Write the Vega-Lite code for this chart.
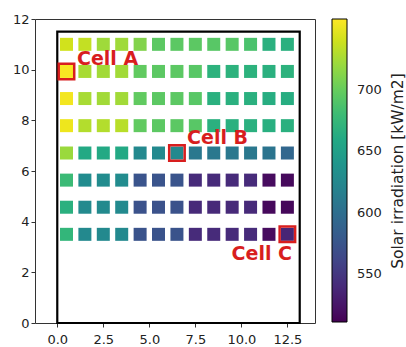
{
  "$schema": "https://vega.github.io/schema/vega-lite/v6.json",
  "width": 280,
  "height": 304,
  "autosize": {"type": "none"},
  "padding": {"left": 35, "top": 19, "right": 91, "bottom": 24},
  "background": "white",
  "title": {"text": "Solar irradiation [kW/m2]", "orient": "right", "angle": 270, "anchor": "middle", "baseline": "middle", "fontSize": 15.5, "fontWeight": "normal", "font": "DejaVu Sans", "color": "#222222", "offset": 0},
  "config": {
    "view": {"stroke": "#333", "strokeWidth": 1},
    "axis": {"labelFont": "DejaVu Sans", "labelFontSize": 13, "labelColor": "#222", "tickColor": "#333", "tickSize": 4, "domain": false, "grid": false, "title": null},
    "legend": {"labelFont": "DejaVu Sans", "labelFontSize": 13, "labelColor": "#222"}
  },
  "datasets": {
    "cells": [
      {"x":0.5,"y":11.0,"v":741},{"x":1.5,"y":11.0,"v":736},{"x":2.5,"y":11.0,"v":723},{"x":3.5,"y":11.0,"v":723},{"x":4.5,"y":11.0,"v":712},{"x":5.5,"y":11.0,"v":696},{"x":6.5,"y":11.0,"v":696},{"x":7.5,"y":11.0,"v":696},{"x":8.5,"y":11.0,"v":694},{"x":9.5,"y":11.0,"v":694},{"x":10.5,"y":11.0,"v":688},{"x":11.5,"y":11.0,"v":668},{"x":12.5,"y":11.0,"v":668},
      {"x":0.5,"y":9.93,"v":756},{"x":1.5,"y":9.93,"v":726},{"x":2.5,"y":9.93,"v":724},{"x":3.5,"y":9.93,"v":724},{"x":4.5,"y":9.93,"v":698},{"x":5.5,"y":9.93,"v":696},{"x":6.5,"y":9.93,"v":696},{"x":7.5,"y":9.93,"v":694},{"x":8.5,"y":9.93,"v":670},{"x":9.5,"y":9.93,"v":670},{"x":10.5,"y":9.93,"v":670},{"x":11.5,"y":9.93,"v":668},{"x":12.5,"y":9.93,"v":670},
      {"x":0.5,"y":8.86,"v":754},{"x":1.5,"y":8.86,"v":726},{"x":2.5,"y":8.86,"v":724},{"x":3.5,"y":8.86,"v":724},{"x":4.5,"y":8.86,"v":698},{"x":5.5,"y":8.86,"v":696},{"x":6.5,"y":8.86,"v":696},{"x":7.5,"y":8.86,"v":694},{"x":8.5,"y":8.86,"v":668},{"x":9.5,"y":8.86,"v":668},{"x":10.5,"y":8.86,"v":668},{"x":11.5,"y":8.86,"v":664},{"x":12.5,"y":8.86,"v":664},
      {"x":0.5,"y":7.79,"v":752},{"x":1.5,"y":7.79,"v":730},{"x":2.5,"y":7.79,"v":730},{"x":3.5,"y":7.79,"v":732},{"x":4.5,"y":7.79,"v":698},{"x":5.5,"y":7.79,"v":696},{"x":6.5,"y":7.79,"v":696},{"x":7.5,"y":7.79,"v":694},{"x":8.5,"y":7.79,"v":668},{"x":9.5,"y":7.79,"v":668},{"x":10.5,"y":7.79,"v":668},{"x":11.5,"y":7.79,"v":666},{"x":12.5,"y":7.79,"v":668},
      {"x":0.5,"y":6.71,"v":721},{"x":1.5,"y":6.71,"v":660},{"x":2.5,"y":6.71,"v":660},{"x":3.5,"y":6.71,"v":660},{"x":4.5,"y":6.71,"v":627},{"x":5.5,"y":6.71,"v":627},{"x":6.5,"y":6.71,"v":627},{"x":7.5,"y":6.71,"v":610},{"x":8.5,"y":6.71,"v":610},{"x":9.5,"y":6.71,"v":610},{"x":10.5,"y":6.71,"v":610},{"x":11.5,"y":6.71,"v":606},{"x":12.5,"y":6.71,"v":592},
      {"x":0.5,"y":5.64,"v":679},{"x":1.5,"y":5.64,"v":630},{"x":2.5,"y":5.64,"v":630},{"x":3.5,"y":5.64,"v":630},{"x":4.5,"y":5.64,"v":575},{"x":5.5,"y":5.64,"v":575},{"x":6.5,"y":5.64,"v":575},{"x":7.5,"y":5.64,"v":541},{"x":8.5,"y":5.64,"v":541},{"x":9.5,"y":5.64,"v":541},{"x":10.5,"y":5.64,"v":541},{"x":11.5,"y":5.64,"v":518},{"x":12.5,"y":5.64,"v":516},
      {"x":0.5,"y":4.57,"v":668},{"x":1.5,"y":4.57,"v":628},{"x":2.5,"y":4.57,"v":628},{"x":3.5,"y":4.57,"v":628},{"x":4.5,"y":4.57,"v":573},{"x":5.5,"y":4.57,"v":573},{"x":6.5,"y":4.57,"v":573},{"x":7.5,"y":4.57,"v":540},{"x":8.5,"y":4.57,"v":540},{"x":9.5,"y":4.57,"v":540},{"x":10.5,"y":4.57,"v":540},{"x":11.5,"y":4.57,"v":516},{"x":12.5,"y":4.57,"v":515},
      {"x":0.5,"y":3.5,"v":674},{"x":1.5,"y":3.5,"v":627},{"x":2.5,"y":3.5,"v":627},{"x":3.5,"y":3.5,"v":627},{"x":4.5,"y":3.5,"v":574},{"x":5.5,"y":3.5,"v":574},{"x":6.5,"y":3.5,"v":574},{"x":7.5,"y":3.5,"v":541},{"x":8.5,"y":3.5,"v":541},{"x":9.5,"y":3.5,"v":541},{"x":10.5,"y":3.5,"v":541},{"x":11.5,"y":3.5,"v":518},{"x":12.5,"y":3.5,"v":536}
    ],
    "building": [{"x": 0, "x2": 13.17, "y": 0, "y2": 11.5}],
    "highlight": [
      {"x": 0.5, "y": 9.93, "label": "Cell A", "lx": 1.07, "ly": 10.18},
      {"x": 6.5, "y": 6.71, "label": "Cell B", "lx": 7.05, "ly": 7.06},
      {"x": 12.5, "y": 3.5, "label": "Cell C", "lx": 9.47, "ly": 2.47}
    ]
  },
  "encoding": {
    "x": {"type": "quantitative", "scale": {"domain": [-1.21, 14.0], "nice": false, "zero": false},
          "axis": {"values": [0, 2.5, 5, 7.5, 10, 12.5], "format": ".1f", "labelPadding": 6}},
    "y": {"type": "quantitative", "scale": {"domain": [0, 12], "nice": false},
          "axis": {"values": [0, 2, 4, 6, 8, 10, 12], "labelPadding": 2}}
  },
  "layer": [
    {
      "data": {"name": "building"},
      "mark": {"type": "rect", "filled": false, "stroke": "black", "strokeWidth": 2.2},
      "encoding": {
        "x": {"field": "x", "type": "quantitative"},
        "x2": {"field": "x2"},
        "y": {"field": "y", "type": "quantitative"},
        "y2": {"field": "y2"}
      }
    },
    {
      "data": {"name": "cells"},
      "mark": {"type": "square", "size": 169, "opacity": 1, "filled": true},
      "encoding": {
        "x": {"field": "x", "type": "quantitative"},
        "y": {"field": "y", "type": "quantitative"},
        "color": {"field": "v", "type": "quantitative",
                  "scale": {"scheme": "viridis", "domain": [511, 758], "nice": false, "zero": false},
                  "legend": {"title": null, "gradientLength": 303, "gradientThickness": 15, "gradientStrokeColor": "black", "gradientStrokeWidth": 1, "values": [550, 600, 650, 700], "offset": 17, "padding": 0, "labelOffset": 10, "direction": "vertical"}}
      }
    },
    {
      "data": {"name": "highlight"},
      "mark": {"type": "square", "size": 240, "filled": false, "stroke": "#d81e1e", "strokeWidth": 2.5, "opacity": 1},
      "encoding": {
        "x": {"field": "x", "type": "quantitative"},
        "y": {"field": "y", "type": "quantitative"}
      }
    },
    {
      "data": {"name": "highlight"},
      "mark": {"type": "text", "align": "left", "baseline": "alphabetic", "font": "DejaVu Sans", "fontWeight": "bold", "fontSize": 19, "color": "#d81e1e"},
      "encoding": {
        "x": {"field": "lx", "type": "quantitative"},
        "y": {"field": "ly", "type": "quantitative"},
        "text": {"field": "label"}
      }
    }
  ]
}
